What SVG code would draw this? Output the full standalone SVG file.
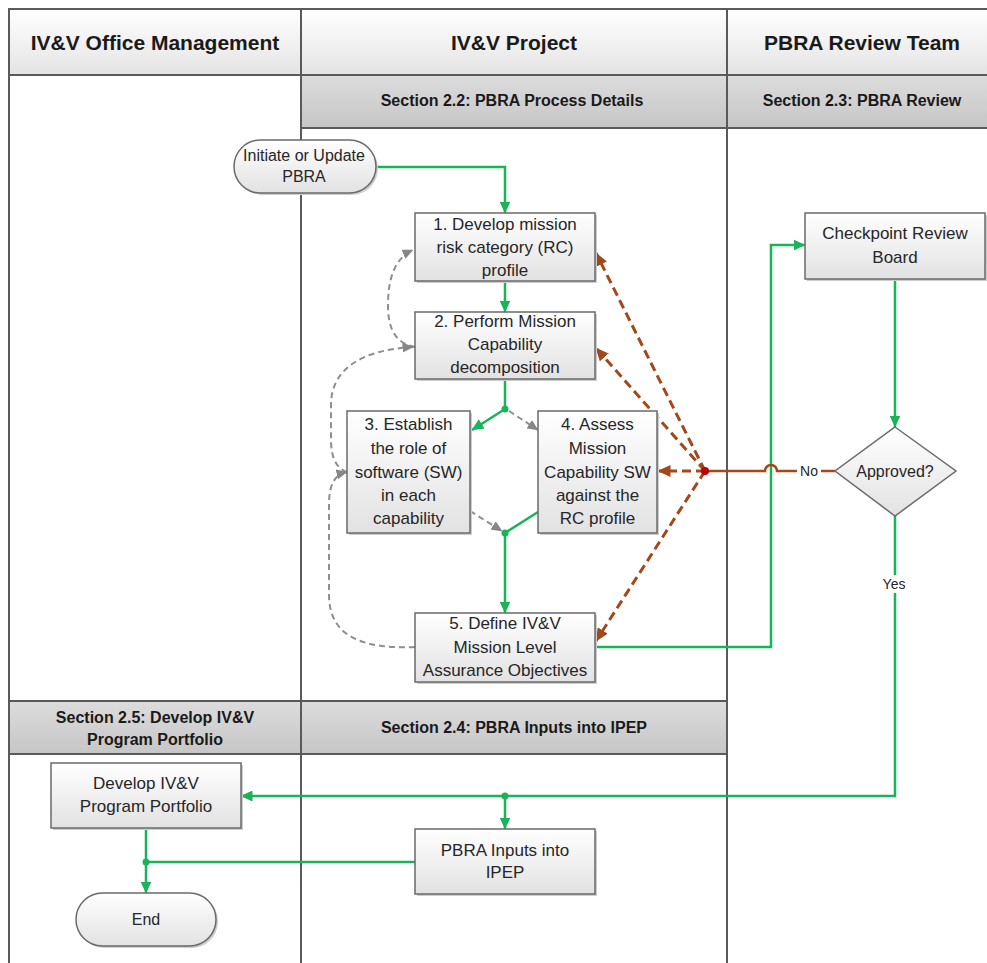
<svg xmlns="http://www.w3.org/2000/svg" width="987" height="963" viewBox="0 0 987 963">
<defs>
<linearGradient id="gNode" x1="0" y1="0" x2="0" y2="1"><stop offset="0" stop-color="#ffffff"/><stop offset="1" stop-color="#e2e2e2"/></linearGradient>
<linearGradient id="gHead" x1="0" y1="0" x2="0" y2="1"><stop offset="0" stop-color="#ffffff"/><stop offset="1" stop-color="#e4e4e4"/></linearGradient>
<linearGradient id="gSec" x1="0" y1="0" x2="0" y2="1"><stop offset="0" stop-color="#dcdcdc"/><stop offset="1" stop-color="#c6c6c6"/></linearGradient>
<marker id="aG" viewBox="0 0 12 11" refX="11.5" refY="5.5" markerWidth="12" markerHeight="11" markerUnits="userSpaceOnUse" orient="auto"><path d="M0,0 L12,5.5 L0,11 z" fill="#1bb35a"/></marker>
<marker id="aY" viewBox="0 0 11 10" refX="10.5" refY="5" markerWidth="11" markerHeight="10" markerUnits="userSpaceOnUse" orient="auto"><path d="M0,0 L11,5 L0,10 z" fill="#868686"/></marker>
<marker id="aB" viewBox="0 0 13 12" refX="12.5" refY="6" markerWidth="13" markerHeight="12" markerUnits="userSpaceOnUse" orient="auto"><path d="M0,0 L13,6 L0,12 z" fill="#a4471b"/></marker>
</defs>
<style>
.lane{fill:none;stroke:#5a5a5a;stroke-width:2}
.head{fill:url(#gHead);stroke:#5a5a5a;stroke-width:2}
.sec{fill:url(#gSec);stroke:#5a5a5a;stroke-width:2}
.node{fill:url(#gNode);stroke:#6a6a6a;stroke-width:1.5}
.shadow{fill:#cdcdcd}
.t{font-family:"Liberation Sans",Arial,sans-serif;font-size:17px;fill:#262626;text-anchor:middle}
.h{font-weight:bold;font-size:21px;fill:#1a1a1a}
.s{font-weight:bold;font-size:16px;fill:#1a1a1a}
.sm{font-size:16px}
.lb{font-size:14px}
.g{fill:none;stroke:#1bb35a;stroke-width:2.5}
.gd{fill:none;stroke:#8e8e8e;stroke-width:2;stroke-dasharray:6 4}
.bd{fill:none;stroke:#a4471b;stroke-width:3;stroke-dasharray:9 5}
.bs{fill:none;stroke:#a4471b;stroke-width:2.5}
</style>
<g id="lanes">
<rect class="head" x="9" y="9" width="292" height="66"/>
<rect class="head" x="301" y="9" width="426" height="66"/>
<rect class="head" x="727" y="9" width="265" height="66"/>
<rect class="sec" x="301" y="75" width="426" height="53"/>
<rect class="sec" x="727" y="75" width="265" height="53"/>
<rect class="sec" x="9" y="701" width="292" height="53"/>
<rect class="sec" x="301" y="701" width="426" height="53"/>
<path class="lane" d="M9,9 V970 M301,9 V970 M727,9 V970"/>
<text class="t h" x="155" y="50">IV&amp;V Office Management</text>
<text class="t h" x="514" y="50">IV&amp;V Project</text>
<text class="t h" x="862" y="50">PBRA Review Team</text>
<text class="t s" x="512" y="106">Section 2.2: PBRA Process Details</text>
<text class="t s" x="862" y="106">Section 2.3: PBRA Review</text>
<text class="t s" x="155" y="723">Section 2.5: Develop IV&amp;V</text>
<text class="t s" x="155" y="745">Program Portfolio</text>
<text class="t s" x="514" y="733">Section 2.4: PBRA Inputs into IPEP</text>
</g>
<g id="connectors">
<path class="g" d="M376,167 H505 V213" marker-end="url(#aG)"/>
<path class="g" d="M505,281 V312" marker-end="url(#aG)"/>
<path class="g" d="M505,379 V409"/>
<path class="g" d="M505,409 L472,430" marker-end="url(#aG)"/>
<path class="gd" d="M509,411 L538,430" marker-end="url(#aY)"/>
<path class="gd" d="M470,511 L502,531" marker-end="url(#aY)"/>
<path class="g" d="M538,512 L505,533 V613" marker-end="url(#aG)"/>
<path class="g" d="M595,647 H771 V245 H805" marker-end="url(#aG)"/>
<path class="g" d="M895,279 V427" marker-end="url(#aG)"/>
<path class="g" d="M895,516 V796 H241" marker-end="url(#aG)"/>
<path class="g" d="M505,796 V829" marker-end="url(#aG)"/>
<path class="g" d="M146,828 V893" marker-end="url(#aG)"/>
<path class="g" d="M415,862 H146"/>
<circle cx="505" cy="409" r="3.5" fill="#1bb35a"/>
<circle cx="505" cy="533" r="3.5" fill="#1bb35a"/>
<circle cx="505" cy="796" r="3.5" fill="#1bb35a"/>
<circle cx="146" cy="862" r="3.5" fill="#1bb35a"/>
<path class="gd" d="M415,347 C393,343 388,325 388,305 C388,278 395,258 413,250" marker-end="url(#aY)"/>
<path class="gd" d="M347,472 C335,468 331,455 331,440 L331,405 C331,370 360,350 413,347" marker-end="url(#aY)"/>
<path class="gd" d="M415,647 C350,650 329,628 329,595 L329,505 C329,485 334,475 347,472" marker-end="url(#aY)"/>
<path class="bs" d="M835,471 H777 A6,6 0 0 0 765,471 H705"/>
<path class="bd" d="M705,471 L596,253" marker-end="url(#aB)"/>
<path class="bd" d="M705,471 L596,348" marker-end="url(#aB)"/>
<path class="bd" d="M705,471 H658" marker-end="url(#aB)"/>
<path class="bd" d="M705,471 L596,641" marker-end="url(#aB)"/>
<circle cx="705" cy="471" r="4" fill="#c00000"/>
<rect x="797" y="462" width="24" height="18" fill="#ffffff"/>
<text class="t lb" x="809" y="476">No</text>
<rect x="880" y="575" width="28" height="18" fill="#ffffff"/>
<text class="t lb" x="894" y="589">Yes</text>
</g>
<g id="start">
<rect class="shadow" x="236" y="142" width="142" height="53" rx="26.5"/>
<rect class="node" x="234" y="140" width="142" height="53" rx="26.5"/>
<text class="t sm" x="304" y="161">Initiate or Update</text>
<text class="t sm" x="304" y="182">PBRA</text>
</g>
<g id="n1">
<rect class="shadow" x="417" y="215" width="180" height="68"/>
<rect class="node" x="415" y="213" width="180" height="68"/>
<text class="t" x="505" y="230">1. Develop mission</text>
<text class="t" x="505" y="253">risk category (RC)</text>
<text class="t" x="505" y="276">profile</text>
</g>
<g id="n2">
<rect class="shadow" x="417" y="314" width="180" height="67"/>
<rect class="node" x="415" y="312" width="180" height="67"/>
<text class="t" x="505" y="327">2. Perform Mission</text>
<text class="t" x="505" y="350">Capability</text>
<text class="t" x="505" y="373">decomposition</text>
</g>
<g id="n3">
<rect class="shadow" x="349" y="413" width="123" height="122"/>
<rect class="node" x="347" y="411" width="123" height="122"/>
<text class="t" x="408.5" y="430">3. Establish</text>
<text class="t" x="408.5" y="454">the role of</text>
<text class="t" x="408.5" y="478">software (SW)</text>
<text class="t" x="408.5" y="501">in each</text>
<text class="t" x="408.5" y="524">capability</text>
</g>
<g id="n4">
<rect class="shadow" x="540" y="413" width="119" height="122"/>
<rect class="node" x="538" y="411" width="119" height="122"/>
<text class="t" x="597.5" y="430">4. Assess</text>
<text class="t" x="597.5" y="454">Mission</text>
<text class="t" x="597.5" y="478">Capability SW</text>
<text class="t" x="597.5" y="501">against the</text>
<text class="t" x="597.5" y="524">RC profile</text>
</g>
<g id="n5">
<rect class="shadow" x="417" y="615" width="180" height="69"/>
<rect class="node" x="415" y="613" width="180" height="69"/>
<text class="t" x="505" y="629">5. Define IV&amp;V</text>
<text class="t" x="505" y="653">Mission Level</text>
<text class="t" x="505" y="676">Assurance Objectives</text>
</g>
<g id="checkpoint">
<rect class="shadow" x="807" y="215" width="180" height="66"/>
<rect class="node" x="805" y="213" width="180" height="66"/>
<text class="t" x="895" y="239">Checkpoint Review</text>
<text class="t" x="895" y="263">Board</text>
</g>
<g id="approved">
<polygon class="node" points="895,427 956,471 895,516 835,471"/>
<text class="t sm" x="895" y="477">Approved?</text>
</g>
<g id="portfolio">
<rect class="shadow" x="53" y="765" width="190" height="65"/>
<rect class="node" x="51" y="763" width="190" height="65"/>
<text class="t" x="146" y="789">Develop IV&amp;V</text>
<text class="t" x="146" y="812">Program Portfolio</text>
</g>
<g id="ipep">
<rect class="shadow" x="417" y="831" width="180" height="65"/>
<rect class="node" x="415" y="829" width="180" height="65"/>
<text class="t" x="505" y="856">PBRA Inputs into</text>
<text class="t" x="505" y="878">IPEP</text>
</g>
<g id="end">
<rect class="shadow" x="78" y="895" width="140" height="53" rx="26.5"/>
<rect class="node" x="76" y="893" width="140" height="53" rx="26.5"/>
<text class="t sm" x="146" y="925">End</text>
</g>
</svg>
